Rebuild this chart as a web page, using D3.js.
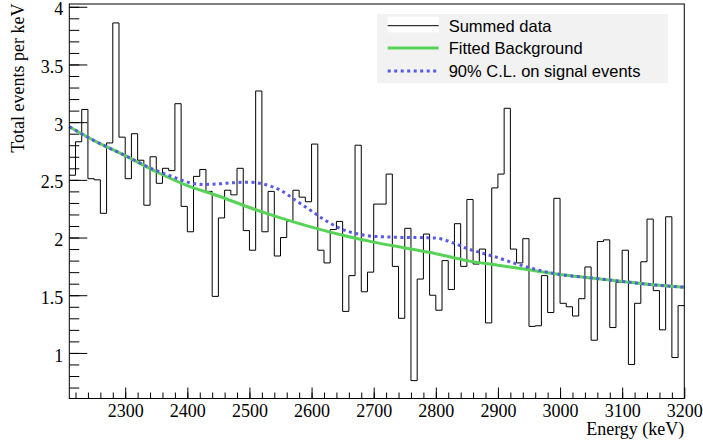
<!DOCTYPE html>
<html>
<head>
<meta charset="utf-8">
<script src="https://cdn.jsdelivr.net/npm/d3@7/dist/d3.min.js"></script>
<style>
body { margin: 0; background: #fff; }
svg { display: block; }
.axis text { font-family: "Liberation Serif", "Times New Roman", serif; font-size: 18px; fill: #000; }
.axis line { stroke: #000; stroke-width: 1; }
.legend text { font-family: "Liberation Sans", Arial, sans-serif; font-size: 16.5px; fill: #000; }
</style>
</head>
<body>
<div id="chart"></div>
<script>
// histogram binning (keV)
var binLow = 2210;
var binWidth = 10;

// summed data, total events per keV, one value per 10 keV bin (2210 - 3200)
var summedData = [
	2.54, 2.83, 3.11, 2.51, 2.50, 2.21, 2.82, 3.86, 2.87, 2.51,
	2.90, 2.67, 2.28, 2.70, 2.47, 2.60, 2.58, 3.16, 2.27, 2.05,
	2.53, 2.59, 2.40, 1.49, 2.17, 2.41, 2.37, 2.60, 2.06, 1.89,
	3.27, 2.05, 2.40, 1.84, 2.00, 2.14, 2.41, 2.35, 2.31, 2.81,
	1.89, 1.78, 2.07, 2.14, 1.36, 1.67, 2.80, 1.53, 1.70, 2.29,
	2.29, 2.55, 1.75, 1.30, 2.08, 0.76, 1.64, 2.03, 1.50, 1.37,
	1.80, 1.55, 2.12, 1.75, 2.33, 1.77, 1.90, 1.26, 2.43, 2.55,
	3.12, 1.90, 1.78, 1.99, 1.23, 1.235, 1.67, 1.35, 2.34, 1.43,
	1.40, 1.32, 1.47, 1.745, 1.11, 1.965, 1.98, 1.22, 1.61, 1.89,
	0.90, 1.43, 1.79, 2.16, 1.54, 1.20, 2.18, 0.96, 1.41
];

// fitted background
var bkgEnergy = [2210, 2250, 2300, 2350, 2400, 2450, 2500, 2550, 2600, 2650, 2700,
	2750, 2800, 2850, 2900, 2950, 3000, 3050, 3100, 3150, 3200];
var bkgValue = [2.96, 2.84, 2.71, 2.57, 2.45, 2.36, 2.26, 2.17, 2.09, 2.02, 1.96,
	1.91, 1.86, 1.80, 1.76, 1.72, 1.68, 1.65, 1.62, 1.59, 1.57];

// 90% C.L. on signal events
var clEnergy = [2210, 2250, 2300, 2350, 2380, 2400, 2425, 2450, 2475, 2500, 2525, 2550,
	2575, 2600, 2625, 2650, 2675, 2700, 2725, 2750, 2775, 2800, 2825, 2850, 2875,
	2900, 2925, 2950, 2975, 3000, 3050, 3100, 3150, 3200];
var clValue = [2.96, 2.84, 2.71, 2.58, 2.52, 2.48, 2.46, 2.465, 2.475, 2.48, 2.46, 2.41,
	2.32, 2.23, 2.14, 2.07, 2.03, 2.01, 2.005, 2.00, 2.00, 1.995, 1.96, 1.905, 1.865,
	1.825, 1.78, 1.74, 1.705, 1.68, 1.65, 1.62, 1.59, 1.57];

// ticks and labels
var xTicks = [2300, 2400, 2500, 2600, 2700, 2800, 2900, 3000, 3100, 3200];
var yTicks = [1, 1.5, 2, 2.5, 3, 3.5, 4];
var legendLabels = ["Summed data", "Fitted Background", "90% C.L. on signal events"];
var xTitle = "Energy (keV)";
var yTitle = "Total events per keV";

var width = 703, height = 444;
var plotLeft = 69.3, plotRight = 684.3, plotTop = 4, plotBottom = 398.5;
var bkgColor = "#57d457";
var clColor = "#5959e8";

var svg = d3.select("#chart").append("svg")
	.attr("width", width)
	.attr("height", height);

var xScale = d3.scaleLinear()
	.domain([2210, 3200])
	.range([plotLeft, plotRight]);

var yScale = d3.scaleLinear()
	.domain([0.605, 4.024])
	.range([plotBottom, plotTop]);

// minor ticks first
svg.append("g")
	.attr("class", "axis")
	.attr("transform", "translate(0," + plotBottom + ")")
	.call(d3.axisBottom(xScale).tickValues(d3.range(2220, 3200, 20)).tickSize(-6).tickFormat(""))
	.call(function(g) { g.select(".domain").remove(); });

svg.append("g")
	.attr("class", "axis")
	.attr("transform", "translate(" + plotLeft + ",0)")
	.call(d3.axisLeft(yScale).tickValues(d3.range(7, 41).map(function(d) { return d / 10; })).tickSize(-10).tickFormat(""))
	.call(function(g) { g.select(".domain").remove(); });

// major ticks + labels
svg.append("g")
	.attr("class", "axis")
	.attr("transform", "translate(0," + plotBottom + ")")
	.call(d3.axisBottom(xScale).tickValues(xTicks).tickSize(-11).tickPadding(6).tickFormat(d3.format("d")))
	.call(function(g) { g.select(".domain").remove(); });

svg.append("g")
	.attr("class", "axis")
	.attr("transform", "translate(" + plotLeft + ",0)")
	.call(d3.axisLeft(yScale).tickValues(yTicks).tickSize(-18).tickPadding(6).tickFormat(d3.format("")))
	.call(function(g) {
		g.select(".domain").remove();
		g.selectAll("text").attr("dy", "0.45em");
	});

// histogram as a step line
var histPoints = summedData.map(function(d, i) { return {e: binLow + i * binWidth, v: d}; });
histPoints.push({e: binLow + summedData.length * binWidth, v: summedData[summedData.length - 1]});

var stepLine = d3.line()
	.x(function(d) { return xScale(d.e); })
	.y(function(d) { return yScale(d.v); })
	.curve(d3.curveStepAfter);

svg.append("path")
	.datum(histPoints)
	.attr("fill", "none")
	.attr("stroke", "#000")
	.attr("stroke-width", 1)
	.attr("d", stepLine);

// smooth curves
var curve = d3.line()
	.x(function(d) { return xScale(d[0]); })
	.y(function(d) { return yScale(d[1]); })
	.curve(d3.curveMonotoneX);

svg.append("path")
	.datum(d3.zip(bkgEnergy, bkgValue))
	.attr("fill", "none")
	.attr("stroke", bkgColor)
	.attr("stroke-width", 3)
	.attr("d", curve);

svg.append("path")
	.datum(d3.zip(clEnergy, clValue))
	.attr("fill", "none")
	.attr("stroke", clColor)
	.attr("stroke-width", 3)
	.attr("stroke-dasharray", "3,3.5")
	.attr("d", curve);

// frame
svg.append("rect")
	.attr("x", plotLeft)
	.attr("y", plotTop)
	.attr("width", plotRight - plotLeft)
	.attr("height", plotBottom - plotTop)
	.attr("fill", "none")
	.attr("stroke", "#000")
	.attr("stroke-width", 1);

// axis titles
svg.append("text")
	.attr("x", plotRight)
	.attr("y", 435)
	.attr("text-anchor", "end")
	.style("font-family", "'Liberation Serif', 'Times New Roman', serif")
	.style("font-size", "18px")
	.text(xTitle);

svg.append("text")
	.attr("transform", "translate(24," + 3.5 + ") rotate(-90)")
	.attr("text-anchor", "end")
	.style("font-family", "'Liberation Serif', 'Times New Roman', serif")
	.style("font-size", "18px")
	.text(yTitle);

// legend
var legend = svg.append("g").attr("class", "legend");
legend.append("rect")
	.attr("x", 377)
	.attr("y", 14)
	.attr("width", 291)
	.attr("height", 69)
	.attr("fill", "#f2f2f2");

var rowY = [25.7, 48, 71];
legend.append("rect")
	.attr("x", 387.7)
	.attr("y", 16.7)
	.attr("width", 51)
	.attr("height", 15.6)
	.attr("fill", "#fff");

var sampleStyle = [
	{color: "#000", w: 1, dash: null},
	{color: bkgColor, w: 3, dash: null},
	{color: clColor, w: 3, dash: "3,3.5"}
];

legendLabels.forEach(function(label, i) {
	legend.append("line")
		.attr("x1", 387.7)
		.attr("x2", 438.7)
		.attr("y1", rowY[i])
		.attr("y2", rowY[i])
		.attr("stroke", sampleStyle[i].color)
		.attr("stroke-width", sampleStyle[i].w)
		.attr("stroke-dasharray", sampleStyle[i].dash);
	legend.append("text")
		.attr("x", 448.7)
		.attr("y", rowY[i] + 5.8)
		.text(label);
});
</script>
</body>
</html>
